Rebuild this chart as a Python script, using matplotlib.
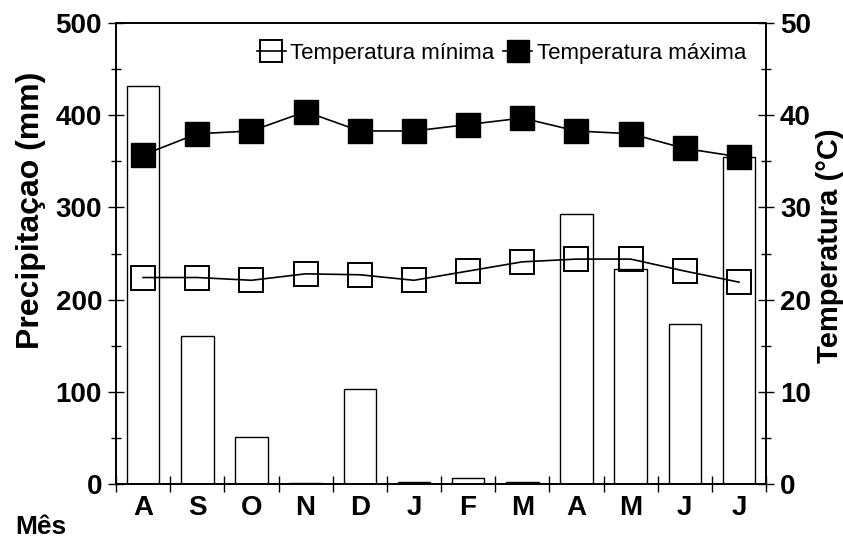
import numpy as np
import matplotlib
matplotlib.use("Agg")
import matplotlib.pyplot as plt

plt.rcParams['font.family'] = ['Liberation Sans', 'DejaVu Sans']

# data
meses = ['A', 'S', 'O', 'N', 'D', 'J', 'F', 'M', 'A', 'M', 'J', 'J']
precip = [432, 161, 51, 1, 103, 2, 7, 2, 293, 233, 174, 355]
t_min = [22.4, 22.4, 22.1, 22.8, 22.7, 22.1, 23.1, 24.1, 24.4, 24.4, 23.1, 21.9]
t_max = [35.7, 38.0, 38.3, 40.4, 38.3, 38.3, 39.0, 39.7, 38.3, 38.0, 36.4, 35.5]

x = np.arange(len(meses))

fig = plt.figure(figsize=(8.43, 5.38), dpi=100)
ax = fig.add_axes([0.1376, 0.1004, 0.7711, 0.8566])
ax2 = ax.twinx()

ax.bar(x, precip, width=0.6, facecolor='white', edgecolor='black', linewidth=1.0, zorder=2)
ax.set_xlim(-0.5, 11.5)
ax.set_ylim(0, 500)
ax.set_yticks(np.arange(0, 501, 100))
ax.set_yticks(np.arange(50, 500, 100), minor=True)
ax.set_xticks(np.arange(-0.5, 12, 1))
ax.set_xticklabels([])
ax.set_xticks(x, minor=True)
ax.set_xticklabels(meses, minor=True, fontweight='bold')
ax.tick_params(axis='x', which='major', direction='inout', length=12, width=1)
ax.tick_params(axis='x', which='minor', length=0, pad=8, labelsize=20)
ax.tick_params(axis='y', which='major', direction='inout', length=12, width=1, labelsize=20, pad=4)
ax.tick_params(axis='y', which='minor', direction='inout', length=7, width=1)
for t in ax.get_yticklabels():
    t.set_fontweight('bold')
ax.set_ylabel('Precipitaçao (mm)', fontsize=23, fontweight='bold')
ax.yaxis.set_label_coords(-0.108, 0.594)

l1, = ax2.plot(x, t_min, color='black', linewidth=1.2, marker='s', markersize=17,
               markerfacecolor='none', markeredgecolor='black', markeredgewidth=1.4,
               label='Temperatura mínima', zorder=3)
l2, = ax2.plot(x, t_max, color='black', linewidth=1.2, marker='s', markersize=17,
               markerfacecolor='black', markeredgecolor='black',
               label='Temperatura máxima', zorder=3)
ax2.set_ylim(0, 50)
ax2.set_yticks(np.arange(0, 51, 10))
ax2.set_yticks(np.arange(5, 50, 10), minor=True)
ax2.tick_params(axis='y', which='major', direction='inout', length=12, width=1, labelsize=20, pad=4)
ax2.tick_params(axis='y', which='minor', direction='inout', length=7, width=1)
for t in ax2.get_yticklabels():
    t.set_fontweight('bold')
ax2.set_ylabel('Temperatura (°C)', fontsize=21, fontweight='bold')
ax2.yaxis.set_label_coords(1.077, 0.516)

for a in (ax, ax2):
    for s in a.spines.values():
        s.set_linewidth(1.2)

leg = ax2.legend(handles=[l1, l2], loc='upper right', bbox_to_anchor=(1.0, 1.0),
                 ncol=2, frameon=False, handlelength=1.3,
                 handletextpad=0.2, columnspacing=0.4, markerscale=0.9,
                 prop={'size': 16})

fig.text(0.018, 0.008, 'Mês', fontsize=19, fontweight='bold')

fig.savefig('out.png', dpi=100)
